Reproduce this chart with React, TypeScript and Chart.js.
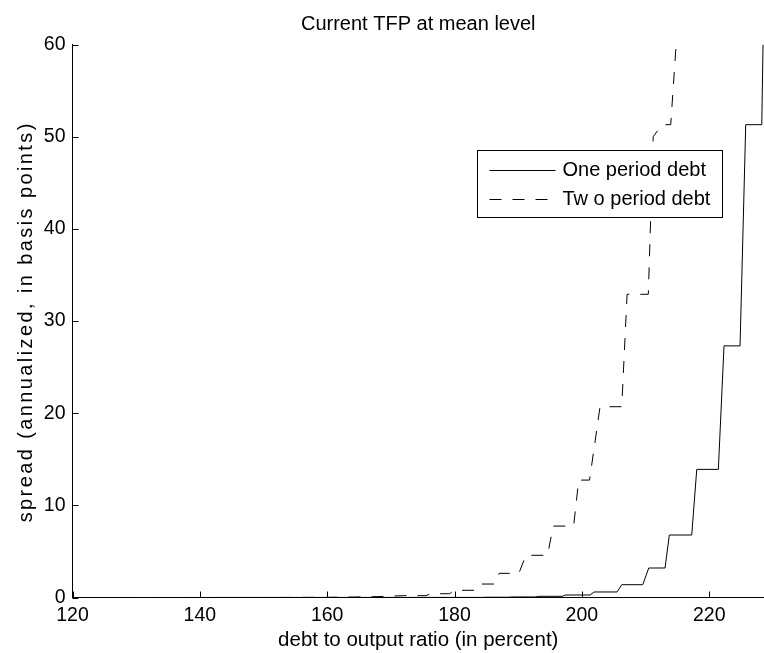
import React, { useEffect, useRef } from "react";
import { Chart, registerables } from "chart.js";

Chart.register(...registerables);

// ---- data ----
const titleText = "Current TFP at mean level";
const xTitle = "debt to output ratio (in percent)";
const yTitle = "spread (annualized, in basis points)";
const seriesLabels = ["One period debt", "Tw o period debt"];

const xTicks = [120, 140, 160, 180, 200, 220];
const yTicks = [0, 10, 20, 30, 40, 50, 60];
const xMin = 120;
const xMax = 228.6;
const yMin = 0;
const yMax = 60;

const oneX = [120, 180, 184.3, 184.9, 188.5, 189.1, 192.7, 193.3, 196.9, 197.46, 201.28, 201.91, 205.52, 206.26, 209.56, 210.5, 213.06, 213.73, 217.25, 218.04, 221.43, 222.32, 224.84, 225.73, 228.25, 228.45];
const oneY = [0, 0.01, 0.01, 0.03, 0.03, 0.06, 0.06, 0.13, 0.13, 0.27, 0.27, 0.6, 0.6, 1.39, 1.39, 3.2, 3.2, 6.78, 6.78, 13.9, 13.9, 27.3, 27.3, 51.3, 51.3, 60];

const twoX = [120, 150, 160, 164, 168, 172, 175.5, 176.3, 179.2, 180, 183.2, 183.9, 186.3, 187.0, 190.1, 191.2, 194.6, 195.5, 198.7, 199.5, 201.2, 202.85, 206.26, 207.1, 210.43, 211.2, 212.6, 213.95, 214.8];
const twoY = [0, 0, 0.02, 0.05, 0.1, 0.2, 0.2, 0.41, 0.41, 0.78, 0.78, 1.46, 1.46, 2.62, 2.62, 4.58, 4.58, 7.75, 7.75, 12.74, 12.74, 20.7, 20.7, 32.9, 32.9, 50.0, 51.3, 51.3, 60];

const FONT = "'Liberation Sans', Arial, Helvetica, sans-serif";
const DASH = [12, 11];

const toPoints = (xs: number[], ys: number[]) => xs.map((x, i) => ({ x, y: ys[i] }));

const inwardTicks = {
  id: "inwardTicks",
  afterDraw(chart: any) {
    const { ctx, chartArea, scales } = chart;
    const len = 6;
    ctx.save();
    ctx.strokeStyle = "#000";
    ctx.lineWidth = 1;
    ctx.beginPath();
    xTicks.forEach((v) => {
      const px = Math.round(scales.x.getPixelForValue(v)) + 0.5;
      ctx.moveTo(px, chartArea.bottom);
      ctx.lineTo(px, chartArea.bottom - len);
    });
    yTicks.forEach((v) => {
      const py = Math.round(scales.y.getPixelForValue(v)) + 0.5;
      ctx.moveTo(chartArea.left, py);
      ctx.lineTo(chartArea.left + len, py);
    });
    ctx.stroke();
    ctx.restore();
  },
};

// y-axis title drawn with the wide letter spacing of the original
const spacedYTitle = {
  id: "spacedYTitle",
  afterDraw(chart: any) {
    const { ctx, chartArea } = chart;
    const spacing = 2.4;
    ctx.save();
    ctx.translate(26.5, (chartArea.top + chartArea.bottom) / 2 + 2);
    ctx.rotate(-Math.PI / 2);
    ctx.font = `20px ${FONT}`;
    (ctx as any).letterSpacing = `${spacing}px`;
    ctx.textAlign = "center";
    ctx.textBaseline = "middle";
    ctx.fillStyle = "#000";
    ctx.fillText(yTitle, spacing / 2, 0);
    ctx.restore();
  },
};

const boxLegend = {
  id: "boxLegend",
  afterDraw(chart: any) {
    const { ctx, chartArea } = chart;
    const left = Math.round(chartArea.right - 287.5) + 0.5;
    const top = Math.round(chartArea.top + 105.5) + 0.5;
    const w = 245;
    const h = 67;
    ctx.save();
    ctx.fillStyle = "#fff";
    ctx.fillRect(left, top, w, h);
    ctx.strokeStyle = "#000";
    ctx.lineWidth = 1;
    ctx.setLineDash([]);
    ctx.strokeRect(left, top, w, h);
    ctx.font = `20px ${FONT}`;
    ctx.textBaseline = "middle";
    ctx.textAlign = "left";
    chart.data.datasets.forEach((ds: any, i: number) => {
      const y = Math.round(top + 19.5 + i * 28.5) + 0.5;
      ctx.beginPath();
      ctx.setLineDash(ds.borderDash || []);
      ctx.strokeStyle = ds.borderColor;
      ctx.lineWidth = ds.borderWidth;
      ctx.moveTo(left + 12, y);
      ctx.lineTo(left + 78, y);
      ctx.stroke();
      ctx.setLineDash([]);
      ctx.fillStyle = "#000";
      ctx.fillText(ds.label, left + 85, y);
    });
    ctx.restore();
  },
};

export default function App() {
  const ref = useRef<HTMLCanvasElement | null>(null);
  useEffect(() => {
    if (!ref.current) return;
    const chart = new Chart(ref.current, {
      type: "line",
      data: {
        datasets: [
          {
            label: seriesLabels[0],
            data: toPoints(oneX, oneY),
            borderColor: "#000",
            borderWidth: 1,
            pointRadius: 0,
            tension: 0,
            fill: false,
          },
          {
            label: seriesLabels[1],
            data: toPoints(twoX, twoY),
            borderColor: "#000",
            borderWidth: 1,
            borderDash: DASH,
            pointRadius: 0,
            tension: 0,
            fill: false,
          },
        ],
      },
      options: {
        responsive: false,
        animation: false,
        devicePixelRatio: 1,
        layout: { padding: 0 },
        plugins: {
          legend: { display: false },
          tooltip: { enabled: false },
          title: {
            display: true,
            text: titleText,
            fullSize: false,
            color: "#000",
            font: { family: FONT, size: 20, weight: "normal" },
            padding: { top: 12, bottom: 8.5 },
          },
        },
        scales: {
          x: {
            type: "linear",
            min: xMin,
            max: xMax,
            grid: { display: false, drawTicks: false },
            border: { display: true, color: "#000", width: 1 },
            ticks: {
              stepSize: 20,
              includeBounds: false,
              color: "#000",
              padding: 6,
              maxRotation: 0,
              font: { family: FONT, size: 19.5 },
            },
            afterBuildTicks: (s: any) => {
              s.ticks = xTicks.map((v) => ({ value: v }));
            },
            afterFit: (s: any) => {
              s.height = 55.5;
            },
            title: {
              display: true,
              text: xTitle,
              color: "#000",
              font: { family: FONT, size: 20.5 },
              padding: { top: 0, bottom: 0 },
            },
          },
          y: {
            type: "linear",
            min: yMin,
            max: yMax,
            grid: { display: false, drawTicks: false },
            border: { display: true, color: "#000", width: 1 },
            ticks: {
              stepSize: 10,
              color: "#000",
              padding: 7,
              font: { family: FONT, size: 19.5 },
            },
            afterBuildTicks: (s: any) => {
              s.ticks = yTicks.map((v) => ({ value: v }));
            },
            afterFit: (s: any) => {
              s.width = 72.5;
            },
            title: { display: false, text: yTitle },
          },
        },
      },
      plugins: [inwardTicks, spacedYTitle, boxLegend],
    });
    return () => chart.destroy();
  }, []);
  return (
    <div style={{ position: "absolute", left: 0, top: 0, width: 764, height: 653, background: "#fff" }}>
      <canvas ref={ref} width={764} height={653} style={{ display: "block" }} />
    </div>
  );
}
